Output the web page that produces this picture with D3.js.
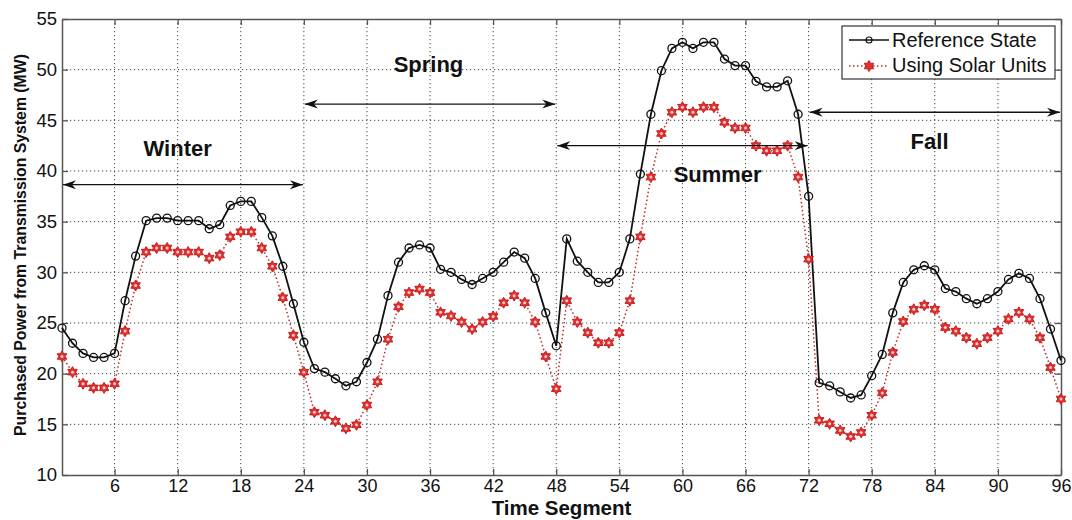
<!DOCTYPE html>
<html>
<head>
<meta charset="utf-8">
<script src="https://cdn.jsdelivr.net/npm/d3@7"></script>
<style>
  body { margin: 0; background: #fff; }
  text { font-family: "Liberation Sans", Arial, sans-serif; fill: #111; }
</style>
</head>
<body>
<div class="chart"></div>
<script>
var svgWidth = 1072;
var svgHeight = 520;

var margin = { top: 19, right: 10, bottom: 45, left: 62 };

var width = 1061 - margin.left;
var height = 475 - margin.top;

// data, one value per time segment 1..96
var segments = d3.range(1, 97);

var referenceState = [
  24.5, 23.0, 22.0, 21.6, 21.6, 22.0, 27.2, 31.6, 35.1, 35.35,
  35.35, 35.1, 35.1, 35.1, 34.3, 34.7, 36.6, 37.0, 37.0, 35.4,
  33.6, 30.6, 26.9, 23.1, 20.5, 20.15, 19.5, 18.8, 19.2, 21.1,
  23.4, 27.7, 31.0, 32.4, 32.7, 32.4, 30.3, 30.0, 29.3, 28.8,
  29.4, 30.0, 31.0, 32.0, 31.4, 29.4, 26.0, 22.75, 33.3, 31.1,
  30.0, 29.0, 29.0, 30.0, 33.3, 39.7, 45.6, 49.9, 52.1, 52.7,
  52.1, 52.7, 52.7, 51.05, 50.4, 50.4, 48.85, 48.3, 48.3, 48.9,
  45.6, 37.5, 19.1, 18.8, 18.2, 17.6, 17.9, 19.8, 21.9, 26.0,
  29.0, 30.25, 30.65, 30.25, 28.4, 28.1, 27.4, 26.9, 27.4, 28.1,
  29.3, 29.9, 29.4, 27.4, 24.4, 21.3
];

var usingSolarUnits = [
  21.7, 20.15, 19.0, 18.6, 18.6, 19.0, 24.2, 28.7, 32.0, 32.4,
  32.4, 32.0, 32.0, 32.0, 31.4, 31.7, 33.5, 34.0, 34.0, 32.4,
  30.6, 27.5, 23.8, 20.15, 16.2, 15.9, 15.3, 14.6, 14.95, 16.9,
  19.2, 23.4, 26.6, 28.0, 28.35, 28.0, 26.05, 25.7, 25.1, 24.4,
  25.1, 25.65, 27.0, 27.7, 27.0, 25.1, 21.7, 18.5, 27.2, 25.1,
  24.05, 23.05, 23.05, 24.05, 27.2, 33.5, 39.4, 43.7, 45.8, 46.3,
  45.8, 46.3, 46.3, 44.8, 44.25, 44.25, 42.5, 42.0, 42.0, 42.5,
  39.4, 31.3, 15.4, 15.05, 14.4, 13.8, 14.2, 15.9, 18.1, 22.1,
  25.15, 26.35, 26.75, 26.35, 24.55, 24.2, 23.55, 22.95, 23.55, 24.2,
  25.4, 26.05, 25.4, 23.55, 20.6, 17.5
];

var xTicks = [6, 12, 18, 24, 30, 36, 42, 48, 54, 60, 66, 72, 78, 84, 90, 96];
var yTicks = [10, 15, 20, 25, 30, 35, 40, 45, 50, 55];

// season arrows: name, from, to, arrow level (MW), label position
var seasonNames = ["Winter", "Spring", "Summer", "Fall"];
var seasonStart = [1, 24, 48, 72];
var seasonEnd = [24, 48, 72, 96];
var seasonLevel = [38.65, 46.6, 42.5, 45.8];
var seasonLabelX = [12, 35.85, 63.35, 83.5];
var seasonLabelY = [41.5, 49.8, 38.95, 42.2];

var svg = d3.select(".chart")
  .append("svg")
  .attr("width", svgWidth)
  .attr("height", svgHeight);

var defs = svg.append("defs");
defs.append("marker")
  .attr("id", "head")
  .attr("viewBox", "0 -5 13 10")
  .attr("refX", 13)
  .attr("refY", 0)
  .attr("markerWidth", 13)
  .attr("markerHeight", 10)
  .attr("markerUnits", "userSpaceOnUse")
  .attr("orient", "auto-start-reverse")
  .append("path")
  .attr("d", "M0,-4.5L13,0L0,4.5L4,0Z")
  .attr("fill", "#111");

var chartGroup = svg.append("g")
  .attr("transform", `translate(${margin.left}, ${margin.top})`);

var xScale = d3.scaleLinear().domain([1, 96]).range([0, width]);
var yScale = d3.scaleLinear().domain([10, 55]).range([height, 0]);

// grid
chartGroup.append("g")
  .selectAll("line")
  .data(xTicks.slice(0, -1))
  .enter()
  .append("line")
  .attr("x1", d => xScale(d)).attr("x2", d => xScale(d))
  .attr("y1", 0).attr("y2", height)
  .attr("stroke", "#444")
  .attr("stroke-width", 1)
  .attr("stroke-dasharray", "1.2,2.8");

chartGroup.append("g")
  .selectAll("line")
  .data(yTicks.slice(1, -1))
  .enter()
  .append("line")
  .attr("x1", 0).attr("x2", width)
  .attr("y1", d => yScale(d)).attr("y2", d => yScale(d))
  .attr("stroke", "#444")
  .attr("stroke-width", 1)
  .attr("stroke-dasharray", "1.2,2.8");

// axes (MATLAB style, ticks pointing in, on all four sides)
var bottomAxis = d3.axisBottom(xScale).tickValues(xTicks).tickSizeInner(-6).tickSizeOuter(0).tickPadding(4);
var leftAxis = d3.axisLeft(yScale).tickValues(yTicks).tickSizeInner(-6).tickSizeOuter(0).tickPadding(5);

var xAxis = chartGroup.append("g")
  .attr("transform", `translate(0, ${height})`)
  .call(bottomAxis);

var yAxis = chartGroup.append("g")
  .call(leftAxis);

chartGroup.append("g")
  .call(d3.axisTop(xScale).tickValues(xTicks).tickSizeInner(-6).tickSizeOuter(0).tickFormat(""));
chartGroup.append("g")
  .attr("transform", `translate(${width}, 0)`)
  .call(d3.axisRight(yScale).tickValues(yTicks).tickSizeInner(-6).tickSizeOuter(0).tickFormat(""));

chartGroup.selectAll(".domain").attr("stroke", "#555").attr("stroke-width", 1.5);
chartGroup.selectAll(".tick line").attr("stroke", "#555").attr("stroke-width", 1.3);
xAxis.selectAll("text").style("font-size", "18px").attr("fill", "#111");
yAxis.selectAll("text").style("font-size", "18.5px").attr("fill", "#111");

// lines
var refLine = d3.line()
  .x((d, i) => xScale(segments[i]))
  .y(d => yScale(d));

chartGroup.append("path")
  .datum(usingSolarUnits)
  .attr("d", refLine)
  .attr("fill", "none")
  .attr("stroke", "#c0282a")
  .attr("stroke-width", 1.5)
  .attr("stroke-dasharray", "1.5,2.5");

chartGroup.append("path")
  .datum(referenceState)
  .attr("d", refLine)
  .attr("fill", "none")
  .attr("stroke", "#111")
  .attr("stroke-width", 1.8);

// hexagram marker
function hexagram(r) {
  var pts = [];
  for (var k = 0; k < 12; k++) {
    var a = -Math.PI / 2 + k * Math.PI / 6;
    var rr = k % 2 === 0 ? r : r * 0.58;
    pts.push([rr * Math.cos(a), rr * Math.sin(a)]);
  }
  return "M" + pts.map(p => p.join(",")).join("L") + "Z";
}

chartGroup.append("g")
  .selectAll("path")
  .data(usingSolarUnits)
  .enter()
  .append("path")
  .attr("transform", (d, i) => `translate(${xScale(segments[i])}, ${yScale(d)})`)
  .attr("d", hexagram(5.5))
  .attr("fill", "#e03030")
  .attr("stroke", "#c81e1e")
  .attr("stroke-width", 1);

chartGroup.append("g")
  .selectAll("circle")
  .data(usingSolarUnits)
  .enter()
  .append("circle")
  .attr("cx", (d, i) => xScale(segments[i]))
  .attr("cy", d => yScale(d))
  .attr("r", 1.5)
  .attr("fill", "#f6d0d0");

chartGroup.append("g")
  .selectAll("circle")
  .data(referenceState)
  .enter()
  .append("circle")
  .attr("cx", (d, i) => xScale(segments[i]))
  .attr("cy", d => yScale(d))
  .attr("r", 4)
  .attr("fill", "none")
  .attr("stroke", "#111")
  .attr("stroke-width", 1.3);

// season arrows and labels
seasonNames.forEach(function(name, i) {
  chartGroup.append("line")
    .attr("x1", xScale(seasonStart[i]) + 1)
    .attr("x2", xScale(seasonEnd[i]) - 1)
    .attr("y1", yScale(seasonLevel[i]))
    .attr("y2", yScale(seasonLevel[i]))
    .attr("stroke", "#111")
    .attr("stroke-width", 1.3)
    .attr("marker-start", "url(#head)")
    .attr("marker-end", "url(#head)");

  chartGroup.append("text")
    .attr("x", xScale(seasonLabelX[i]))
    .attr("y", yScale(seasonLabelY[i]))
    .attr("text-anchor", "middle")
    .style("font-size", "22px")
    .style("font-weight", "bold")
    .text(name);
});

// legend
var legend = chartGroup.append("g")
  .attr("transform", `translate(${842 - margin.left}, ${26 - margin.top})`);

legend.append("rect")
  .attr("width", 213)
  .attr("height", 53)
  .attr("fill", "#fff")
  .attr("stroke", "#333")
  .attr("stroke-width", 1.2);

legend.append("line")
  .attr("x1", 7).attr("x2", 47).attr("y1", 14).attr("y2", 14)
  .attr("stroke", "#111").attr("stroke-width", 1.6);
legend.append("circle")
  .attr("cx", 27).attr("cy", 14).attr("r", 3)
  .attr("fill", "none").attr("stroke", "#111").attr("stroke-width", 1.2);
legend.append("text")
  .attr("x", 50).attr("y", 21)
  .style("font-size", "20px")
  .text("Reference State");

legend.append("line")
  .attr("x1", 7).attr("x2", 47).attr("y1", 40).attr("y2", 40)
  .attr("stroke", "#c0282a").attr("stroke-width", 1.5)
  .attr("stroke-dasharray", "1.5,2.5");
legend.append("path")
  .attr("transform", "translate(27, 40)")
  .attr("d", hexagram(5.5))
  .attr("fill", "#e03030")
  .attr("stroke", "#c81e1e");
legend.append("text")
  .attr("x", 50).attr("y", 46)
  .style("font-size", "20px")
  .text("Using Solar Units");

// axis titles
svg.append("text")
  .attr("x", margin.left + width / 2)
  .attr("y", 515)
  .attr("text-anchor", "middle")
  .style("font-size", "20.5px")
  .style("font-weight", "bold")
  .text("Time Segment");

svg.append("text")
  .attr("transform", "rotate(-90)")
  .attr("x", -245)
  .attr("y", 26)
  .attr("text-anchor", "middle")
  .style("font-size", "15.8px")
  .style("font-weight", "bold")
  .text("Purchased Power from Transmission System (MW)");
</script>
</body>
</html>
